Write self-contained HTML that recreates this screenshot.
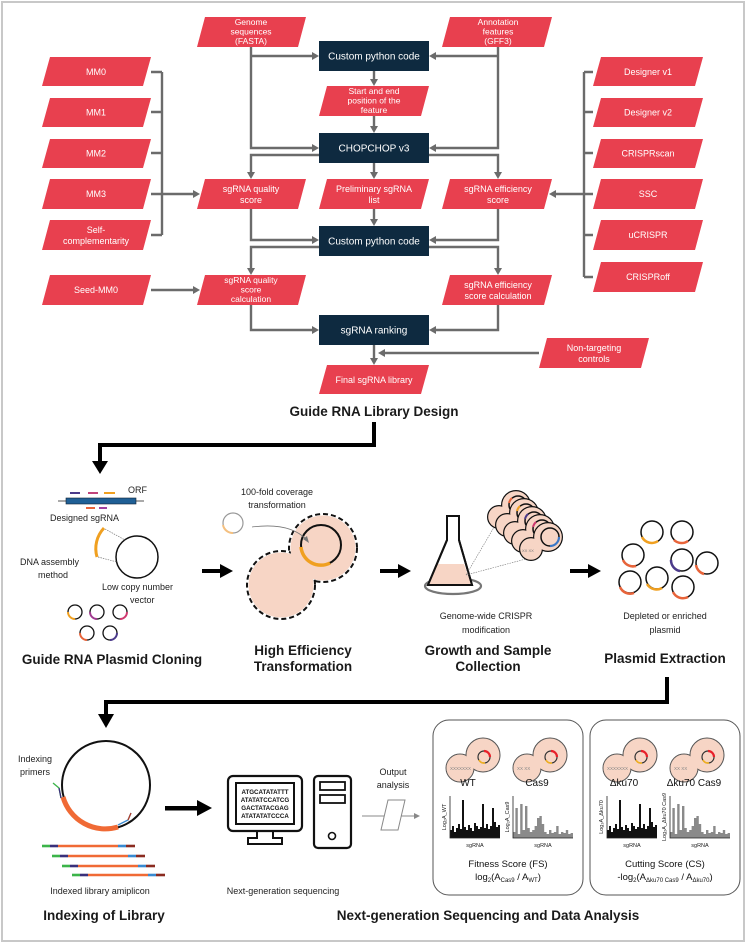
<!DOCTYPE html>
<html><head><meta charset="utf-8"><style>
html,body{margin:0;padding:0;background:#fff;}
svg{display:block;font-family:"Liberation Sans",Arial,sans-serif;}
.p{fill:#e8404f;}
.d{fill:#0e2a40;}
.wt{fill:#fff;font-size:9px;text-anchor:middle;}
.wd{fill:#fff;font-size:10px;text-anchor:middle;}
.g{stroke:#6b6b6b;stroke-width:2.4;fill:none;}
.ah{fill:#6b6b6b;}
.t{font-size:13.5px;font-weight:bold;text-anchor:middle;fill:#1a1a1a;}
.s{font-size:9px;fill:#222;}
.k{stroke:#000;stroke-width:4;fill:none;}
</style></head><body>
<svg width="747" height="945" viewBox="0 0 747 945">
<defs>
<path id="ahR" d="M0,0 L-7,-4 L-7,4 Z"/>
<path id="barB" d="M0,40 V32H2V28H4V34H6V30H8V26H10V31H12V2H14V29H16V32H18V27H20V30H22V33H24V25H26V28H28V31H30V29H32V6H34V30H36V26H38V31H40V28H42V10H44V24H46V29H48V27H50V40Z" fill="#111"/>
<path id="barG" d="M0,40 V34H2.4V10H4.8V36H7.2V6H9.6V32H12V8H14.4V30H16.8V34H19.2V32H21.6V28H24V20H26.4V18H28.8V26H31.2V34H33.6V36H36V32H38.4V35H40.8V34H43.2V28H45.6V36H48V34H50.4V35H52.8V32H55.2V36H57.6V35H60V40Z" fill="#8a8a8a"/>
</defs>
<rect x="2" y="2" width="742" height="939" fill="#fff" stroke="#c8c8c8" stroke-width="2"/>

<g class="g">
<path d="M251,47 V148 H312"/><path d="M251,56 H312"/>
<path d="M498,47 V148 H436"/><path d="M498,56 H436"/>
<path d="M374,71 V80"/><path d="M374,116 V127"/><path d="M374,163 V173"/>
<path d="M319,155 H251 V173"/><path d="M429,155 H498 V173"/>
<path d="M251,209 V240 H312"/><path d="M498,209 V240 H436"/><path d="M374,209 V220"/>
<path d="M319,247 H251 V269"/><path d="M429,247 H498 V269"/>
<path d="M251,305 V330 H312"/><path d="M498,305 V330 H436"/>
<path d="M374,345 V359"/><path d="M539,353 H384"/>
<path d="M151,72 H162 M151,112 H162 M151,153 H162 M151,194 H162 M151,235 H162 M162,72 V235 M162,194 H193"/>
<path d="M151,290 H193"/>
<path d="M593,72 H584 M593,112 H584 M593,153 H584 M593,194 H584 M593,235 H584 M593,277 H584 M584,72 V277 M584,194 H555"/>
</g>
<g class="ah">
<use href="#ahR" transform="translate(319,148)"/><use href="#ahR" transform="translate(319,56)"/>
<use href="#ahR" transform="translate(429,148) rotate(180)"/><use href="#ahR" transform="translate(429,56) rotate(180)"/>
<use href="#ahR" transform="translate(374,86) rotate(90)"/><use href="#ahR" transform="translate(374,133) rotate(90)"/><use href="#ahR" transform="translate(374,179) rotate(90)"/>
<use href="#ahR" transform="translate(251,179) rotate(90)"/><use href="#ahR" transform="translate(498,179) rotate(90)"/>
<use href="#ahR" transform="translate(319,240)"/><use href="#ahR" transform="translate(429,240) rotate(180)"/><use href="#ahR" transform="translate(374,226) rotate(90)"/>
<use href="#ahR" transform="translate(251,275) rotate(90)"/><use href="#ahR" transform="translate(498,275) rotate(90)"/>
<use href="#ahR" transform="translate(319,330)"/><use href="#ahR" transform="translate(429,330) rotate(180)"/>
<use href="#ahR" transform="translate(374,365) rotate(90)"/><use href="#ahR" transform="translate(378,353) rotate(180)"/>
<use href="#ahR" transform="translate(200,194)"/><use href="#ahR" transform="translate(200,290)"/>
<use href="#ahR" transform="translate(549,194) rotate(180)"/>
</g>

<g class="p">
<polygon points="205,17 306,17 298,47 197,47"/>
<polygon points="450,17 552,17 544,47 442,47"/>
<polygon points="327,86 429,86 421,116 319,116"/>
<polygon points="205,179 306,179 298,209 197,209"/>
<polygon points="327,179 429,179 421,209 319,209"/>
<polygon points="450,179 552,179 544,209 442,209"/>
<polygon points="205,275 306,275 298,305 197,305"/>
<polygon points="450,275 552,275 544,305 442,305"/>
<polygon points="327,365 429,365 421,394 319,394"/>
<polygon points="547,338 649,338 641,368 539,368"/>
<polygon points="50,57 151,57 143,86 42,86"/>
<polygon points="50,98 151,98 143,127 42,127"/>
<polygon points="50,139 151,139 143,168 42,168"/>
<polygon points="50,179 151,179 143,209 42,209"/>
<polygon points="50,220 151,220 143,250 42,250"/>
<polygon points="50,275 151,275 143,305 42,305"/>
<polygon points="601,57 703,57 695,86 593,86"/>
<polygon points="601,98 703,98 695,127 593,127"/>
<polygon points="601,139 703,139 695,168 593,168"/>
<polygon points="601,179 703,179 695,209 593,209"/>
<polygon points="601,220 703,220 695,250 593,250"/>
<polygon points="601,262 703,262 695,292 593,292"/>
</g>
<g class="d">
<rect x="319" y="41" width="110" height="30"/>
<rect x="319" y="133" width="110" height="30"/>
<rect x="319" y="226" width="110" height="30"/>
<rect x="319" y="315" width="110" height="30"/>
</g>
<g class="wt">
<g font-size="8.5"><text x="251" y="25">Genome</text><text x="251" y="34.5">sequences</text><text x="251" y="44">(FASTA)</text>
<text x="498" y="25">Annotation</text><text x="498" y="34.5">features</text><text x="498" y="44">(GFF3)</text>
<text x="374" y="94">Start and end</text><text x="374" y="103.5">position of the</text><text x="374" y="113">feature</text>
<text x="251" y="283">sgRNA quality</text><text x="251" y="292.5">score</text><text x="251" y="302">calculation</text></g>
<text x="251" y="192">sgRNA quality</text><text x="251" y="203">score</text>
<text x="374" y="192">Preliminary sgRNA</text><text x="374" y="203">list</text>
<text x="498" y="192">sgRNA efficiency</text><text x="498" y="203">score</text>
<text x="498" y="288">sgRNA efficiency</text><text x="498" y="299">score calculation</text>
<text x="374" y="383">Final sgRNA library</text>
<text x="594" y="351">Non-targeting</text><text x="594" y="362">controls</text>
<text x="96" y="75">MM0</text><text x="96" y="115.5">MM1</text><text x="96" y="156.5">MM2</text><text x="96" y="197">MM3</text>
<text x="96" y="233">Self-</text><text x="96" y="244">complementarity</text>
<text x="96" y="293">Seed-MM0</text>
<text x="648" y="75">Designer v1</text><text x="648" y="115.5">Designer v2</text><text x="648" y="156.5">CRISPRscan</text>
<text x="648" y="197">SSC</text><text x="648" y="238">uCRISPR</text><text x="648" y="280">CRISPRoff</text>
</g>
<g class="wd">
<text x="374" y="59.5">Custom python code</text>
<text x="374" y="151.5">CHOPCHOP v3</text>
<text x="374" y="244.5">Custom python code</text>
<text x="374" y="333.5">sgRNA ranking</text>
</g>
<text class="t" x="374" y="416">Guide RNA Library Design</text>

<path class="k" d="M374,422 V445 H100 V462"/>
<polygon points="92,461 108,461 100,474"/>
<path class="k" d="M667,677 V702 H106 V715"/>
<polygon points="98,714 114,714 106,728"/>
<g>
<rect x="202" y="569" width="20" height="4"/><polygon points="220,564 233,571 220,578"/>
<rect x="380" y="569" width="20" height="4"/><polygon points="398,564 411,571 398,578"/>
<rect x="570" y="569" width="20" height="4"/><polygon points="588,564 601,571 588,578"/>
<rect x="165" y="806" width="34" height="4.5"/><polygon points="197,800 212,808 197,816"/>
</g>

<line x1="58" y1="501" x2="144" y2="501" stroke="#555" stroke-width="1"/>
<rect x="66" y="498" width="70" height="6" fill="#1f5f95" stroke="#123" stroke-width="0.6"/>
<g stroke-width="2">
<line x1="70" y1="493" x2="80" y2="493" stroke="#4b3a8a"/><line x1="88" y1="493" x2="98" y2="493" stroke="#c0447a"/><line x1="104" y1="493" x2="115" y2="493" stroke="#f0a020"/>
<line x1="86" y1="508" x2="95" y2="508" stroke="#e8643a"/><line x1="99" y1="508" x2="107" y2="508" stroke="#a040a0"/>
</g>
<text class="s" x="128" y="493">ORF</text>
<text class="s" x="50" y="521">Designed sgRNA</text>
<path d="M104,528 A30,30 0 0 0 97,557" stroke="#f0a020" stroke-width="3" fill="none"/>
<circle cx="137" cy="557" r="21" fill="none" stroke="#111" stroke-width="1.5"/>
<line x1="105" y1="529" x2="125" y2="540" stroke="#777" stroke-width="0.7" stroke-dasharray="1.5,1"/>
<line x1="98" y1="557" x2="117" y2="562" stroke="#777" stroke-width="0.7" stroke-dasharray="1.5,1"/>
<text class="s" x="20" y="565">DNA assembly</text><text class="s" x="38" y="578">method</text>
<text class="s" x="102" y="590">Low copy number</text><text class="s" x="130" y="603">vector</text>
<g fill="none" stroke-width="1.3">
<circle cx="75" cy="612" r="7" stroke="#111"/><path d="M68,612 A7,7 0 0 0 75,619" stroke="#f0a020" stroke-width="2"/>
<circle cx="97" cy="612" r="7" stroke="#111"/><path d="M90,612 A7,7 0 0 0 97,619" stroke="#a03a90" stroke-width="2"/>
<circle cx="120" cy="612" r="7" stroke="#111"/><path d="M120,619 A7,7 0 0 0 127,612" stroke="#d03a70" stroke-width="2"/>
<circle cx="87" cy="633" r="7" stroke="#111"/><path d="M80,633 A7,7 0 0 0 87,640" stroke="#e8643a" stroke-width="2"/>
<circle cx="110" cy="633" r="7" stroke="#111"/><path d="M110,640 A7,7 0 0 0 117,633" stroke="#4b3a8a" stroke-width="2"/>
</g>
<text class="t" x="112" y="664">Guide RNA Plasmid Cloning</text>

<text class="s" x="277" y="495" text-anchor="middle">100-fold coverage</text>
<text class="s" x="277" y="508" text-anchor="middle">transformation</text>
<circle cx="233" cy="523" r="10" fill="#fff" stroke="#999" stroke-width="1.2"/>
<path d="M223,525 A10,10 0 0 0 233,533" stroke="#f4c080" stroke-width="2" fill="none"/>
<g fill="none" stroke="#111" stroke-width="2" stroke-dasharray="5,3">
<circle cx="323" cy="548" r="34"/><circle cx="281" cy="585" r="34"/>
</g>
<g fill="#f7d5c5"><circle cx="323" cy="548" r="32.5"/><circle cx="281" cy="585" r="32.5"/><path d="M300,560 L310,575 L295,585 Z"/></g>
<circle cx="321" cy="545" r="20" fill="none" stroke="#111" stroke-width="2"/>
<path d="M301,547 A20,20 0 0 0 330,563" stroke="#f0a020" stroke-width="3.5" fill="none"/>
<path d="M252,527 Q290,522 307,540" stroke="#777" stroke-width="0.8" fill="none"/>
<polygon points="309,543 303,539 307,536" fill="#777"/>
<text class="t" x="303" y="655">High Efficiency</text>
<text class="t" x="303" y="671">Transformation</text>

<ellipse cx="453" cy="586" rx="28" ry="8" fill="none" stroke="#777" stroke-width="2.2"/>
<path d="M447,516 V540 L428,585 H472 L459,540 V516 Z" fill="#fff" stroke="#111" stroke-width="2"/>
<path d="M438,564 H464 L471,584 H429 Z" fill="#f7d5c5"/>
<path d="M447,516 V540 L428,585 H472 L459,540 V516 Z" fill="none" stroke="#111" stroke-width="2"/>
<line x1="446" y1="516" x2="460" y2="516" stroke="#111" stroke-width="2"/>
<line x1="466" y1="575" x2="500" y2="517" stroke="#777" stroke-width="0.6" stroke-dasharray="1.5,1"/>
<line x1="466" y1="575" x2="537" y2="556" stroke="#777" stroke-width="0.6" stroke-dasharray="1.5,1"/>
<g>
<g transform="translate(0,0)"><circle cx="499" cy="517" r="12" fill="#111"/><circle cx="516" cy="505" r="15" fill="#111"/><circle cx="499" cy="517" r="10.8" fill="#f7d5c5"/><circle cx="516" cy="505" r="13.8" fill="#f7d5c5"/><circle cx="518" cy="505" r="9" fill="none" stroke="#111" stroke-width="1.5"/><path d="M509,503 a9,9 0 0 1 3,-5" stroke="#e8643a" stroke-width="2" fill="none"/></g>
<g transform="translate(8,8)"><circle cx="499" cy="517" r="12" fill="#111"/><circle cx="516" cy="505" r="15" fill="#111"/><circle cx="499" cy="517" r="10.8" fill="#f7d5c5"/><circle cx="516" cy="505" r="13.8" fill="#f7d5c5"/><circle cx="518" cy="505" r="9" fill="none" stroke="#111" stroke-width="1.5"/><path d="M509,503 a9,9 0 0 1 3,-5" stroke="#f0a020" stroke-width="2" fill="none"/></g>
<g transform="translate(16,16)"><circle cx="499" cy="517" r="12" fill="#111"/><circle cx="516" cy="505" r="15" fill="#111"/><circle cx="499" cy="517" r="10.8" fill="#f7d5c5"/><circle cx="516" cy="505" r="13.8" fill="#f7d5c5"/><circle cx="518" cy="505" r="9" fill="none" stroke="#111" stroke-width="1.5"/><path d="M509,503 a9,9 0 0 1 3,-5" stroke="#4b3a8a" stroke-width="2" fill="none"/></g>
<g transform="translate(24,24)"><circle cx="499" cy="517" r="12" fill="#111"/><circle cx="516" cy="505" r="15" fill="#111"/><circle cx="499" cy="517" r="10.8" fill="#f7d5c5"/><circle cx="516" cy="505" r="13.8" fill="#f7d5c5"/><circle cx="518" cy="505" r="9" fill="none" stroke="#111" stroke-width="1.5"/><path d="M509,503 a9,9 0 0 1 3,-5" stroke="#d03a70" stroke-width="2" fill="none"/></g>
<g transform="translate(32,32)"><circle cx="499" cy="517" r="12" fill="#111"/><circle cx="516" cy="505" r="15" fill="#111"/><circle cx="499" cy="517" r="10.8" fill="#f7d5c5"/><circle cx="516" cy="505" r="13.8" fill="#f7d5c5"/><circle cx="518" cy="505" r="9" fill="none" stroke="#111" stroke-width="1.5"/><path d="M518,514 a9,9 0 0 0 9,-9" stroke="#3a78c8" stroke-width="2.2" fill="none"/><text x="490" y="520" font-size="4" fill="#777">XX XX</text></g>
</g>
<text class="s" x="486" y="619" text-anchor="middle">Genome-wide CRISPR</text>
<text class="s" x="486" y="633" text-anchor="middle">modification</text>
<text class="t" x="488" y="655">Growth and Sample</text>
<text class="t" x="488" y="671">Collection</text>

<g fill="none" stroke-width="1.5">
<circle cx="652" cy="532" r="11" stroke="#111"/><path d="M642,537 A11,11 0 0 0 658,541" stroke="#f0a020" stroke-width="2.5"/>
<circle cx="682" cy="532" r="11" stroke="#111"/><path d="M674,540 A11,11 0 0 0 688,541" stroke="#e8643a" stroke-width="2.5"/>
<circle cx="633" cy="555" r="11" stroke="#111"/><path d="M623,560 A11,11 0 0 0 636,566" stroke="#e8643a" stroke-width="2.5"/>
<circle cx="682" cy="560" r="11" stroke="#111"/><path d="M671,560 A11,11 0 0 0 680,571" stroke="#4b3a8a" stroke-width="2.5"/>
<circle cx="707" cy="563" r="11" stroke="#111"/><path d="M696,565 A11,11 0 0 0 704,574" stroke="#e8643a" stroke-width="2.5"/>
<circle cx="630" cy="582" r="11" stroke="#111"/><path d="M620,587 A11,11 0 0 0 634,593" stroke="#e8643a" stroke-width="2.5"/>
<circle cx="657" cy="578" r="11" stroke="#111"/><path d="M647,584 A11,11 0 0 0 662,588" stroke="#f0a020" stroke-width="2.5"/>
<circle cx="683" cy="587" r="11" stroke="#111"/><path d="M673,592 A11,11 0 0 0 688,597" stroke="#e8643a" stroke-width="2.5"/>
</g>
<text class="s" x="665" y="619" text-anchor="middle">Depleted or enriched</text>
<text class="s" x="665" y="633" text-anchor="middle">plasmid</text>
<text class="t" x="665" y="663">Plasmid Extraction</text>

<circle cx="106" cy="785" r="44" fill="none" stroke="#111" stroke-width="2"/>
<path d="M63,797 A44,44 0 0 0 118,827" stroke="#f06a35" stroke-width="5" fill="none"/>
<path d="M53,783 L59,788 L61,798" stroke="#3cb44a" stroke-width="1.3" fill="none"/>
<path d="M59,788 L61,798" stroke="#3a2f7a" stroke-width="1.3"/>
<path d="M118,825 L128,820 L131,813" stroke="#3a8ad0" stroke-width="1.3" fill="none"/>
<path d="M128,820 L131,813" stroke="#b0402a" stroke-width="1.3"/>
<text class="s" x="18" y="762">Indexing</text><text class="s" x="20" y="775">primers</text>
<g stroke-width="2.6">
<line x1="42" y1="846" x2="50" y2="846" stroke="#3cb44a"/><line x1="50" y1="846" x2="58" y2="846" stroke="#3a2f7a"/><line x1="58" y1="846" x2="118" y2="846" stroke="#f06a35"/><line x1="118" y1="846" x2="126" y2="846" stroke="#3a8ad0"/><line x1="126" y1="846" x2="135" y2="846" stroke="#8a2a20"/>
<line x1="52" y1="856" x2="60" y2="856" stroke="#3cb44a"/><line x1="60" y1="856" x2="68" y2="856" stroke="#3a2f7a"/><line x1="68" y1="856" x2="128" y2="856" stroke="#f06a35"/><line x1="128" y1="856" x2="136" y2="856" stroke="#3a8ad0"/><line x1="136" y1="856" x2="145" y2="856" stroke="#8a2a20"/>
<line x1="62" y1="866" x2="70" y2="866" stroke="#3cb44a"/><line x1="70" y1="866" x2="78" y2="866" stroke="#3a2f7a"/><line x1="78" y1="866" x2="138" y2="866" stroke="#f06a35"/><line x1="138" y1="866" x2="146" y2="866" stroke="#3a8ad0"/><line x1="146" y1="866" x2="155" y2="866" stroke="#8a2a20"/>
<line x1="72" y1="875" x2="80" y2="875" stroke="#3cb44a"/><line x1="80" y1="875" x2="88" y2="875" stroke="#3a2f7a"/><line x1="88" y1="875" x2="148" y2="875" stroke="#f06a35"/><line x1="148" y1="875" x2="156" y2="875" stroke="#3a8ad0"/><line x1="156" y1="875" x2="165" y2="875" stroke="#8a2a20"/>
</g>
<text class="s" x="100" y="894" text-anchor="middle">Indexed library amiplicon</text>
<text class="t" x="104" y="920">Indexing of Library</text>

<rect x="228" y="776" width="74" height="55" rx="5" fill="none" stroke="#111" stroke-width="2.2"/>
<rect x="236" y="783" width="58" height="41" fill="none" stroke="#111" stroke-width="2"/>
<g font-size="6.2" font-weight="bold" fill="#111" text-anchor="middle">
<text x="265" y="794">ATGCATATATTT</text><text x="265" y="802">ATATATCCATCG</text><text x="265" y="810">GACTATACGAG</text><text x="265" y="818">ATATATATCCCA</text>
</g>
<path d="M257,831 V838 H248 V844 H282 V838 H273 V831" fill="none" stroke="#111" stroke-width="2"/>
<rect x="314" y="776" width="37" height="72" rx="4" fill="none" stroke="#111" stroke-width="2.2"/>
<rect x="320" y="782" width="25" height="8" fill="none" stroke="#111" stroke-width="1.8"/>
<rect x="320" y="795" width="25" height="8" fill="none" stroke="#111" stroke-width="1.8"/>
<circle cx="332" cy="836" r="3.5" fill="none" stroke="#111" stroke-width="1.6"/>
<text class="s" x="283" y="894" text-anchor="middle">Next-generation sequencing</text>
<text class="s" x="393" y="775" text-anchor="middle">Output</text><text class="s" x="393" y="788" text-anchor="middle">analysis</text>
<line x1="362" y1="816" x2="419" y2="816" stroke="#888" stroke-width="1"/>
<polygon points="420,816 414,813 414,819" fill="#888"/>
<polygon points="388,800 405,800 398,830 381,830" fill="#fff" stroke="#888" stroke-width="1"/>

<rect x="433" y="720" width="150" height="175" rx="16" fill="#fff" stroke="#555" stroke-width="1"/>
<rect x="590" y="720" width="150" height="175" rx="16" fill="#fff" stroke="#555" stroke-width="1"/>
<g>
<g transform="translate(470,0)"><circle cx="-10" cy="768" r="14" fill="#f7d5c5" stroke="#555" stroke-width="1"/><circle cx="13" cy="755" r="17" fill="#f7d5c5" stroke="#555" stroke-width="1"/><circle cx="-10" cy="768" r="13.4" fill="#f7d5c5"/><circle cx="14" cy="757" r="6" fill="none" stroke="#333" stroke-width="1.2"/><path d="M14,751 A6,6 0 0 1 20,757" stroke="#e8202a" stroke-width="2.2" fill="none"/><path d="M9,760 A6,6 0 0 0 15,763" stroke="#f0b020" stroke-width="1.6" fill="none"/><text x="-20" y="770" font-size="4.5" fill="#888">XXXXXXX</text></g>
<g transform="translate(537,0)"><circle cx="-10" cy="768" r="14" fill="#f7d5c5" stroke="#555" stroke-width="1"/><circle cx="13" cy="755" r="17" fill="#f7d5c5" stroke="#555" stroke-width="1"/><circle cx="-10" cy="768" r="13.4" fill="#f7d5c5"/><circle cx="14" cy="757" r="6" fill="none" stroke="#333" stroke-width="1.2"/><path d="M14,751 A6,6 0 0 1 20,757" stroke="#e8202a" stroke-width="2.2" fill="none"/><path d="M9,760 A6,6 0 0 0 15,763" stroke="#f0b020" stroke-width="1.6" fill="none"/><text x="-20" y="770" font-size="4.5" fill="#888">XX  XX</text></g>
<g transform="translate(627,0)"><circle cx="-10" cy="768" r="14" fill="#f7d5c5" stroke="#555" stroke-width="1"/><circle cx="13" cy="755" r="17" fill="#f7d5c5" stroke="#555" stroke-width="1"/><circle cx="-10" cy="768" r="13.4" fill="#f7d5c5"/><circle cx="14" cy="757" r="6" fill="none" stroke="#333" stroke-width="1.2"/><path d="M14,751 A6,6 0 0 1 20,757" stroke="#e8202a" stroke-width="2.2" fill="none"/><path d="M9,760 A6,6 0 0 0 15,763" stroke="#f0b020" stroke-width="1.6" fill="none"/><text x="-20" y="770" font-size="4.5" fill="#888">XXXXXXX</text></g>
<g transform="translate(694,0)"><circle cx="-10" cy="768" r="14" fill="#f7d5c5" stroke="#555" stroke-width="1"/><circle cx="13" cy="755" r="17" fill="#f7d5c5" stroke="#555" stroke-width="1"/><circle cx="-10" cy="768" r="13.4" fill="#f7d5c5"/><circle cx="14" cy="757" r="6" fill="none" stroke="#333" stroke-width="1.2"/><path d="M14,751 A6,6 0 0 1 20,757" stroke="#e8202a" stroke-width="2.2" fill="none"/><path d="M9,760 A6,6 0 0 0 15,763" stroke="#f0b020" stroke-width="1.6" fill="none"/><text x="-20" y="770" font-size="4.5" fill="#888">XX  XX</text></g>
</g>
<g font-size="10" text-anchor="middle" fill="#111">
<text x="468" y="786">WT</text><text x="537" y="786">Cas9</text>
<text x="624" y="786">Δku70</text><text x="694" y="786">Δku70 Cas9</text>
</g>
<use href="#barB" transform="translate(450,798)"/>
<use href="#barG" transform="translate(513,798)"/>
<use href="#barB" transform="translate(607,798)"/>
<use href="#barG" transform="translate(670,798)"/>
<g stroke="#222" stroke-width="0.8">
<path d="M450,796 V838 H500" fill="none"/><path d="M513,796 V838 H573" fill="none"/>
<path d="M607,796 V838 H657" fill="none"/><path d="M670,796 V838 H730" fill="none"/>
</g>
<g font-size="5.5" fill="#222" text-anchor="middle">
<text x="475" y="847">sgRNA</text><text x="543" y="847">sgRNA</text><text x="632" y="847">sgRNA</text><text x="700" y="847">sgRNA</text>
<text transform="translate(446,817) rotate(-90)">Log₂A_WT</text>
<text transform="translate(509,817) rotate(-90)">Log₂A_Cas9</text>
<text transform="translate(603,817) rotate(-90)">Log₂A_Δku70</text>
<text transform="translate(666,817) rotate(-90)">Log₂A_Δku70 Cas9</text>
</g>
<g font-size="9.5" text-anchor="middle" fill="#111">
<text x="508" y="867">Fitness Score (FS)</text>
<text x="508" y="880">log<tspan font-size="6" dy="2">2</tspan><tspan dy="-2">(A</tspan><tspan font-size="6" dy="2">Cas9</tspan><tspan dy="-2"> / A</tspan><tspan font-size="6" dy="2">WT</tspan><tspan dy="-2">)</tspan></text>
<text x="665" y="867">Cutting Score (CS)</text>
<text x="665" y="880">-log<tspan font-size="6" dy="2">2</tspan><tspan dy="-2">(A</tspan><tspan font-size="6" dy="2">Δku70 Cas9</tspan><tspan dy="-2"> / A</tspan><tspan font-size="6" dy="2">Δku70</tspan><tspan dy="-2">)</tspan></text>
</g>
<text class="t" x="488" y="920">Next-generation Sequencing and Data Analysis</text>
</svg>
</body></html>
